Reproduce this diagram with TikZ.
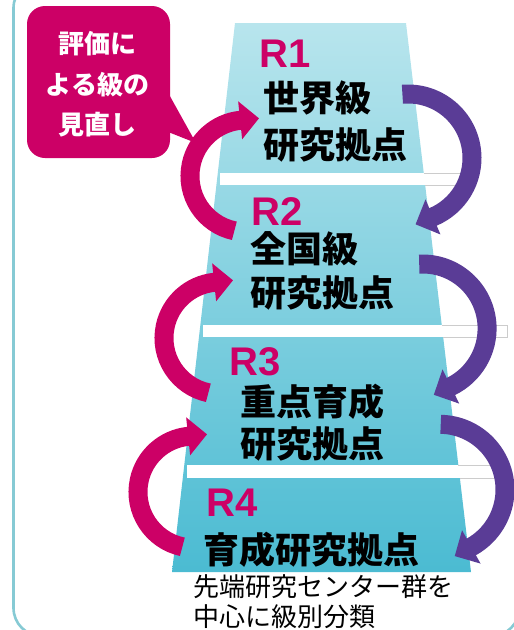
\documentclass[tikz,border=0pt]{standalone}
\usepackage{fontspec}
\newfontfamily\jpfont{Noto Sans CJK JP}
\newfontfamily\latfont{Liberation Sans}
\usetikzlibrary{arrows.meta,calc}
\definecolor{mag}{HTML}{CC0066}
\definecolor{purp}{HTML}{5A3C96}
\definecolor{bandtop}{HTML}{B8E5ED}
\definecolor{bandbot}{HTML}{4BBBD2}
\definecolor{framec}{HTML}{86CAD4}
\definecolor{stripline}{HTML}{CCCCCC}
\begin{document}
\begin{tikzpicture}[x=1pt,y=1pt,
  rlab/.style={anchor=west,inner sep=0pt,text=mag,font=\latfont\bfseries\fontsize{40}{40}\selectfont},
  jtx/.style={anchor=west,inner sep=0pt,font=\jpfont\bfseries\fontsize{36}{36}\selectfont},
  cyc/.style={line width=19pt,-{Triangle[length=19pt,width=37pt]}},
  stripl/.style={stripline,line width=0.8pt},
]
\useasboundingbox (0,0) rectangle (514,-630);
\clip (0,0) rectangle (514,-630);
% outer frame
\draw[framec,line width=2.6pt,rounded corners=28pt] (13.5,20) rectangle (519.4,-636);

% pyramid
\shade[top color=bandtop,bottom color=bandbot] (235,-23) -- (406,-23) -- (471,-572) -- (172,-572) -- cycle;
% gaps between the levels
\fill[white] (220,-173) rectangle (465,-185);
\draw[stripl] (423.8,-173) -- (465,-173) (425.2,-185) -- (465,-185);
\fill[white] (202.5,-325) rectangle (507,-337);
\draw[stripl] (441.8,-325) -- (507,-325) -- (507,-337) -- (443.2,-337);
\fill[white] (186.5,-465) rectangle (500,-478);
\draw[stripl] (458.3,-465) -- (500,-465) (459.9,-478) -- (500,-478);

% level labels
\node[rlab] (r1) at (259,-54) {R1};
\node[jtx] (t1a) at (263,-98) {世界級};
\node[jtx] (t1b) at (263,-145) {研究拠点};
\node[rlab] (r2) at (251,-212) {R2};
\node[jtx] (t2a) at (250,-249) {全国級};
\node[jtx] (t2b) at (250,-293) {研究拠点};
\node[rlab] (r3) at (229,-362) {R3};
\node[jtx] (t3a) at (240,-402) {重点育成};
\node[jtx] (t3b) at (240,-444) {研究拠点};
\node[rlab] (r4) at (206,-503) {R4};
\node[jtx] (t4a) at (203,-550) {育成研究拠点};

\node[anchor=west,inner sep=0pt,align=left,font=\jpfont\fontsize{26}{30}\selectfont] (note) at (193,-602) {先端研究センター群を\\中心に級別分類};

% callout
\node[fill=mag,rounded corners=18pt,minimum width=143pt,minimum height=152pt,inner sep=0pt] (cb) at (98.5,-82) {};
\coordinate (cbtip) at (196,-143);
\fill[mag] ($(cb.east)+(-2,-11)$) -- (cbtip) -- ($(cb.east)+(-2,-50)$) -- cycle;
\node[text=white,align=center,inner sep=0pt,font=\jpfont\bfseries\fontsize{26}{40.5}\selectfont] (ct) at (97.5,-84.5) {評価に\\よる級の\\見直し};

% upward (magenta) cycle arrows
\coordinate (mc1) at (246,-176);
\coordinate (mc2) at (220,-338);
\coordinate (mc3) at (194,-492);
\draw[cyc,mag] ($(mc1)+(258:56)$) arc[start angle=258,end angle=96,radius=56pt] -- ++(6:19);
\draw[cyc,mag] ($(mc2)+(258:56)$) arc[start angle=258,end angle=96,radius=56pt] -- ++(6:19);
\draw[cyc,mag] ($(mc3)+(258:56)$) arc[start angle=258,end angle=96,radius=56pt] -- ++(6:19);

% downward (purple) cycle arrows
\coordinate (pc1) at (408,-158);
\coordinate (pc2) at (422.6,-328.5);
\coordinate (pc3) at (439.6,-489.7);
\draw[cyc,purp] ($(pc1)+(95:64)$) arc[start angle=95,end angle=-67,radius=64pt] -- ++(-157:19);
\draw[cyc,purp] ($(pc2)+(93:64.5)$) arc[start angle=93,end angle=-64,radius=64.5pt] -- ++(-154:19);
\draw[cyc,purp] ($(pc3)+(89:65.4)$) arc[start angle=89,end angle=-61,radius=65.4pt] -- ++(-151:19);
\end{tikzpicture}
\end{document}
